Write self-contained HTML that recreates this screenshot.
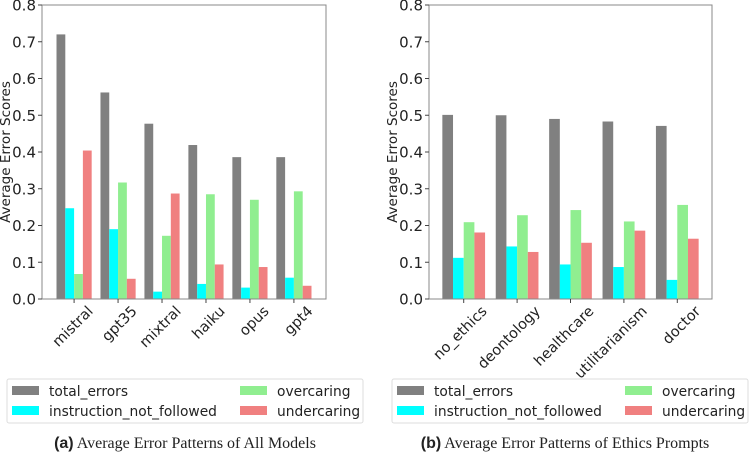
<!DOCTYPE html>
<html><head><meta charset="utf-8"><style>
body{margin:0;background:#fff;width:750px;height:456px;overflow:hidden}
svg text{font-family:"DejaVu Sans","Liberation Sans",sans-serif;fill:#222}
</style></head><body>
<svg id="svg" width="750" height="456" xmlns="http://www.w3.org/2000/svg"></svg>
<script>
const seriesNames=["total_errors","instruction_not_followed","overcaring","undercaring"];
const colors=["#808080","#00ffff","#90ee90","#f08080"];
const yTicks=[0.0,0.1,0.2,0.3,0.4,0.5,0.6,0.7,0.8];
const catsA=["mistral","gpt35","mixtral","haiku","opus","gpt4"];
const totalA=[0.72,0.562,0.477,0.419,0.386,0.386];
const instrA=[0.247,0.19,0.02,0.041,0.031,0.058];
const overA=[0.068,0.317,0.172,0.285,0.27,0.293];
const underA=[0.404,0.055,0.287,0.094,0.087,0.036];
const catsB=["no_ethics","deontology","healthcare","utilitarianism","doctor"];
const totalB=[0.501,0.5,0.49,0.483,0.471];
const instrB=[0.112,0.143,0.094,0.087,0.052];
const overB=[0.209,0.228,0.242,0.211,0.256];
const underB=[0.181,0.128,0.153,0.186,0.164];

const NS="http://www.w3.org/2000/svg";
const svg=document.getElementById('svg');
function mk(tag,attrs,parent,text){const e=document.createElementNS(NS,tag);for(const k in attrs)e.setAttribute(k,attrs[k]);if(text!==undefined)e.textContent=text;(parent||svg).appendChild(e);return e;}

function chart(id,left,right,cats,series,legX,capX,capLetter,capText){
  const top=5,bottom=299;
  const n=cats.length;
  const pad=(id==='a')?0.73:0.65;
  const xs=v=>left+(v+pad)/(n-1+2*pad)*(right-left);
  const ys=v=>bottom-v/0.8*(bottom-top);
  const unit=xs(1)-xs(0);const bw=unit*0.2;
  const g=mk('g',{});
  
  
  mk('rect',{x:left,y:top,width:right-left,height:bottom-top,fill:'#fff'},g);
  series.forEach((arr,si)=>{
    arr.forEach((v,ci)=>{
      const x=xs(ci)-2*bw+si*bw;
      const r=mk('rect',{x:x,y:ys(v),width:bw,height:ys(0)-ys(v),fill:colors[si]},g);
      
      
    });
  });
  const frame=mk('rect',{x:left,y:top,width:right-left,height:bottom-top,fill:'none',stroke:'#888','stroke-width':1},g);
  
  
  yTicks.forEach(t=>{
    mk('line',{x1:left-4,x2:left,y1:ys(t),y2:ys(t),stroke:'#444'},g);
    const tl=mk('text',{x:left-6,y:ys(t)+5.5,'text-anchor':'end','font-size':15},g,t.toFixed(1));
    
    
  });
  cats.forEach((c,ci)=>{
    const cx=xs(ci);
    mk('line',{x1:cx,x2:cx,y1:bottom,y2:bottom+4,stroke:'#444'},g);
    const px=cx+0.45*unit, py=bottom+13;
    const tl=mk('text',{x:px,y:py,'text-anchor':'end','font-size':14.5,transform:`rotate(-45 ${px} ${py})`},g,c);
    
    
  });
  const yt=mk('text',{x:0,y:0,'text-anchor':'middle','font-size':13.5,transform:`translate(${left-32} ${(top+bottom)/2}) rotate(-90)`},g,'Average Error Scores');
  
  
  const lg=mk('g',{},g);
  
  
  mk('rect',{x:legX,y:379,width:356,height:44,rx:2,fill:'#fff',stroke:'#ddd'},lg);
  const pos=[[0,0],[0,1],[1,0],[1,1]];
  seriesNames.forEach((s,si)=>{
    const [c,r]=pos[si];
    const sx=legX+5+c*228, sy=386+r*20;
    const le=mk('g',{},lg);
    
    
    mk('rect',{x:sx,y:sy,width:27,height:9,fill:colors[si]},le);
    mk('text',{x:sx+37,y:sy+10,'font-size':13.8},le,s);
  });
  const cap=mk('text',{x:capX,y:448,'text-anchor':'middle','font-size':16},g);
  
  
  mk('tspan',{'font-weight':'bold','font-family':'"Liberation Sans",sans-serif'},cap,'('+capLetter+')');
  mk('tspan',{'font-family':'"Liberation Serif",serif'},cap,' '+capText);
}
chart('a',42,326,catsA,[totalA,instrA,overA,underA],7,185,'a','Average Error Patterns of All Models');
chart('b',429,712,catsB,[totalB,instrB,overB,underB],392,565,'b','Average Error Patterns of Ethics Prompts');
</script>
</body></html>
